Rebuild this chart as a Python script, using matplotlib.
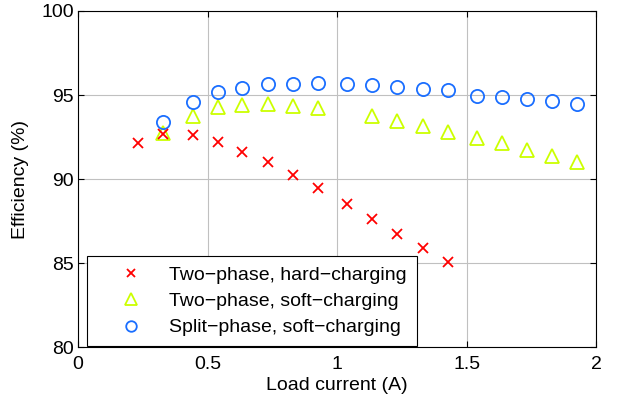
import matplotlib

matplotlib.use("Agg")
import matplotlib.pyplot as plt

plt.rcParams["font.family"] = ["Liberation Sans", "DejaVu Sans"]

# load current (A) / efficiency (%)
hard_x = [0.233, 0.330, 0.443, 0.539, 0.634, 0.732, 0.830, 0.926, 1.039,
          1.135, 1.233, 1.330, 1.427]
hard_y = [92.14, 92.70, 92.62, 92.18, 91.63, 91.01, 90.24, 89.46, 88.53,
          87.62, 86.74, 85.91, 85.04]

soft_x = [0.330, 0.443, 0.539, 0.634, 0.732, 0.830, 0.926, 1.135, 1.233,
          1.330, 1.427, 1.540, 1.637, 1.733, 1.830, 1.927]
soft_y = [92.75, 93.78, 94.30, 94.40, 94.44, 94.36, 94.22, 93.77, 93.43,
          93.13, 92.83, 92.44, 92.12, 91.74, 91.37, 90.99]

split_x = [0.330, 0.443, 0.539, 0.634, 0.732, 0.830, 0.926, 1.039, 1.135,
           1.233, 1.330, 1.427, 1.540, 1.637, 1.733, 1.830, 1.927]
split_y = [93.37, 94.60, 95.16, 95.42, 95.63, 95.67, 95.71, 95.63, 95.60,
           95.45, 95.36, 95.27, 94.96, 94.88, 94.78, 94.62, 94.48]

labels = ["Two\u2212phase, hard\u2212charging",
          "Two\u2212phase, soft\u2212charging",
          "Split\u2212phase, soft\u2212charging"]

RED = "#ff0000"
LIME = "#ccff00"
BLUE = "#1a6eff"
FS = 14

fig = plt.figure(figsize=(6.19, 4.07), dpi=100)
ax = fig.add_axes([0.126, 0.147, 0.837, 0.826])

h1, = ax.plot(hard_x, hard_y, ls="none", marker="x", ms=6.5, mew=1.3,
              color=RED, zorder=5)
h2, = ax.plot(soft_x, soft_y, ls="none", marker="^", ms=10.5, mew=1.3,
              mfc="none", mec=LIME, zorder=3)
h3, = ax.plot(split_x, split_y, ls="none", marker="o", ms=9.5, mew=1.3,
              mfc="none", mec=BLUE, zorder=4)

ax.set_xlim(0, 2)
ax.set_ylim(80, 100)
ax.set_xticks([0, 0.5, 1, 1.5, 2])
ax.set_xticklabels(["0", "0.5", "1", "1.5", "2"])
ax.set_yticks([80, 85, 90, 95, 100])
ax.grid(True, color="#c0c0c0", lw=0.8)
ax.set_axisbelow(True)
ax.tick_params(direction="in", top=True, right=True, labelsize=FS,
               length=4, width=0.8)
ax.tick_params(axis="x", pad=6)
ax.tick_params(axis="y", pad=3)
for s in ax.spines.values():
    s.set_linewidth(0.8)

ax.set_xlabel("Load current (A)", fontsize=FS, labelpad=3)
ax.set_ylabel("Efficiency (%)", fontsize=FS, labelpad=9)

leg = ax.legend([h1, h2, h3], labels, loc="lower left",
                bbox_to_anchor=(0.017, 0.003), fontsize=FS, fancybox=False,
                edgecolor="black", framealpha=1, markerscale=0.8,
                handlelength=3.5, handletextpad=0.25, borderpad=0.5,
                labelspacing=0.45, borderaxespad=0)
leg.get_frame().set_linewidth(0.8)

fig.savefig("out.png", dpi=100)
